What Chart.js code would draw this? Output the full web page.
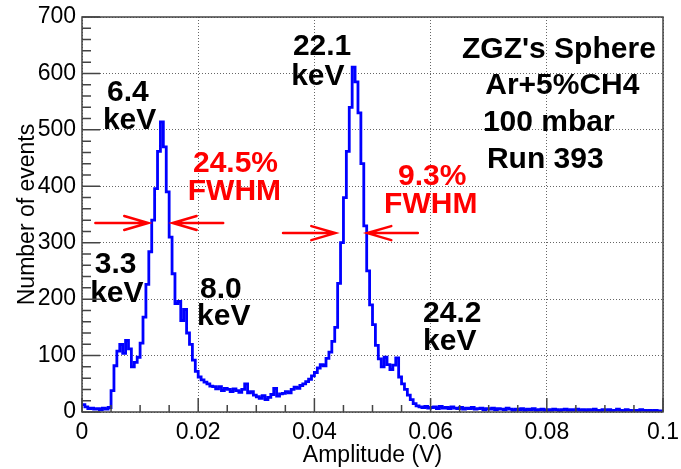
<!DOCTYPE html>
<html>
<head>
<meta charset="utf-8">
<script src="https://cdn.jsdelivr.net/npm/chart.js@4/dist/chart.umd.min.js"></script>
<style>
  html, body { margin: 0; padding: 0; background: #fff; }
  canvas { display: block; }
</style>
</head>
<body>
<canvas id="spectrum" width="681" height="469"></canvas>
<script>
// Histogram: 200 bins of 0.0005 V from 0 to 0.1 V
const binWidth = 0.0005
const counts = [
  15, 13, 9, 6, 7, 5, 6, 4, 7, 5,
  8, 38, 82, 108, 120, 104, 127, 112, 80, 88,
  97, 122, 168, 226, 284, 340, 396, 462, 514, 470,
  390, 310, 245, 192, 196, 162, 182, 140, 120, 92,
  72, 62, 57, 53, 50, 46, 45, 41, 45, 38,
  42, 40, 36, 41, 38, 35, 40, 50, 34, 36,
  30, 27, 24, 29, 22, 26, 31, 42, 28, 32,
  33, 36, 34, 40, 44, 42, 47, 50, 54, 58,
  64, 70, 78, 84, 82, 95, 106, 125, 150, 228,
  300, 380, 462, 540, 611, 585, 530, 440, 330, 250,
  190, 155, 118, 94, 80, 97, 84, 75, 83, 96,
  62, 50, 40, 30, 22, 15, 11, 9, 8, 10,
  7, 8, 9, 6, 10, 7, 8, 6, 9, 7,
  6, 8, 5, 7, 6, 8, 5, 6, 7, 4,
  6, 5, 7, 4, 6, 5, 4, 7, 5, 3,
  5, 4, 6, 3, 5, 4, 6, 3, 4, 5,
  3, 4, 3, 5, 4, 2, 4, 5, 3, 4,
  3, 5, 3, 4, 2, 4, 3, 5, 3, 2,
  4, 3, 4, 2, 3, 5, 3, 2, 4, 3,
  2, 3, 2, 4, 3, 2, 3, 2, 3, 2
]

// Axis ranges and ticks
const xRange = [0, 0.1]
const yRange = [0, 700]
const xMajorStep = 0.02
const xMinorStep = 0.005
const yMajorStep = 100
const yMinorStep = 20

// Text annotations (left x in V, baseline y in counts)
const blackLabels = [
  { text: '6.4', x: 0.0043, y: 551 },
  { text: 'keV', x: 0.0036, y: 501 },
  { text: '22.1', x: 0.0363, y: 633 },
  { text: 'keV', x: 0.0360, y: 579 },
  { text: '3.3', x: 0.0022, y: 246 },
  { text: 'keV', x: 0.0014, y: 195 },
  { text: '8.0', x: 0.0203, y: 202 },
  { text: 'keV', x: 0.0198, y: 154 },
  { text: '24.2', x: 0.0587, y: 159 },
  { text: 'keV', x: 0.0587, y: 110 },
  { text: "ZGZ's Sphere", x: 0.0654, y: 627 },
  { text: 'Ar+5%CH4', x: 0.0694, y: 564 },
  { text: '100 mbar', x: 0.0690, y: 498 },
  { text: 'Run 393', x: 0.0697, y: 432 }
]
const redLabels = [
  { text: '24.5%', x: 0.0191, y: 425 },
  { text: 'FWHM', x: 0.0182, y: 376 },
  { text: '9.3%', x: 0.0544, y: 402 },
  { text: 'FWHM', x: 0.0520, y: 353 }
]
// FWHM arrows: tail -> head (V, counts)
const fwhmArrows = [
  { x1: 0.0023, x2: 0.0114, y: 335 },
  { x1: 0.0243, x2: 0.0156, y: 335 },
  { x1: 0.0346, x2: 0.0436, y: 317 },
  { x1: 0.0578, x2: 0.0491, y: 317 }
]

const FONT = '"Liberation Sans", Arial, Helvetica, sans-serif'

// bin left edges + closing point for the step line
const histPoints = counts.map((c, i) => ({ x: i * binWidth, y: c }))
histPoints.push({ x: counts.length * binWidth, y: counts[counts.length - 1] })

const annotationPlugin = {
  id: 'rootStyle',
  afterDatasetsDraw(chart) {
    const ctx = chart.ctx
    const xs = chart.scales.x
    const ys = chart.scales.y

    ctx.save()
    ctx.textAlign = 'left'
    ctx.textBaseline = 'alphabetic'
    ctx.font = 'bold 30px ' + FONT
    ctx.fillStyle = '#000'
    blackLabels.forEach(l => {
      ctx.fillText(l.text, xs.getPixelForValue(l.x), ys.getPixelForValue(l.y))
    })
    ctx.fillStyle = '#ff0000'
    redLabels.forEach(l => {
      ctx.fillText(l.text, xs.getPixelForValue(l.x), ys.getPixelForValue(l.y))
    })

    // arrows
    ctx.strokeStyle = '#ff0000'
    ctx.lineWidth = 2.5
    ctx.lineCap = 'round'
    fwhmArrows.forEach(a => {
      const px1 = xs.getPixelForValue(a.x1)
      const px2 = xs.getPixelForValue(a.x2)
      const py = ys.getPixelForValue(a.y)
      const dir = px2 > px1 ? 1 : -1
      ctx.beginPath()
      ctx.moveTo(px1, py)
      ctx.lineTo(px2, py)
      ctx.moveTo(px2 - dir * 24, py - 7)
      ctx.lineTo(px2, py)
      ctx.lineTo(px2 - dir * 24, py + 7)
      ctx.stroke()
    })
    ctx.restore()
  },
  afterDraw(chart) {
    const ctx = chart.ctx
    const area = chart.chartArea
    const xs = chart.scales.x
    const ys = chart.scales.y

    ctx.save()
    ctx.strokeStyle = '#444'
    ctx.lineWidth = 1.5

    // inward ticks on bottom and left axes
    ctx.beginPath()
    const nx = Math.round((xRange[1] - xRange[0]) / xMinorStep)
    for (let i = 0; i <= nx; i++) {
      const v = xRange[0] + i * xMinorStep
      const px = xs.getPixelForValue(v)
      const len = i % Math.round(xMajorStep / xMinorStep) === 0 ? 14 : 7
      ctx.moveTo(px, area.bottom)
      ctx.lineTo(px, area.bottom - len)
    }
    const ny = Math.round((yRange[1] - yRange[0]) / yMinorStep)
    for (let i = 0; i <= ny; i++) {
      const v = yRange[0] + i * yMinorStep
      const py = ys.getPixelForValue(v)
      const len = i % Math.round(yMajorStep / yMinorStep) === 0 ? 18 : 9
      ctx.moveTo(area.left, py)
      ctx.lineTo(area.left + len, py)
    }
    ctx.stroke()

    // frame
    ctx.strokeRect(area.left, area.top, area.right - area.left, area.bottom - area.top)
    ctx.restore()
  }
}

new Chart(document.getElementById('spectrum'), {
  type: 'line',
  data: {
    datasets: [{
      label: 'Spectrum',
      data: histPoints,
      stepped: 'after',
      borderColor: '#0000ff',
      borderWidth: 2.8,
      pointRadius: 0,
      fill: false
    }]
  },
  options: {
    responsive: false,
    devicePixelRatio: 1,
    animation: false,
    parsing: false,
    layout: {
      padding: { left: 0, top: 17, right: 18, bottom: 0 }
    },
    plugins: {
      legend: { display: false },
      tooltip: { enabled: false }
    },
    scales: {
      x: {
        type: 'linear',
        min: xRange[0],
        max: xRange[1],
        afterFit: scale => {
          scale.height = 57
          scale.paddingLeft = 0
          scale.paddingRight = 0
        },
        grid: {
          color: '#666',
          lineWidth: 1,
          drawTicks: false
        },
        border: { display: false, dash: [1, 2] },
        ticks: {
          stepSize: xMajorStep,
          padding: 7,
          color: '#000',
          font: { family: FONT, size: 23 },
          maxRotation: 0,
          callback: value => String(Number(value.toFixed(3)))
        },
        title: {
          display: true,
          text: 'Amplitude (V)',
          color: '#000',
          font: { family: FONT, size: 23 },
          padding: 0
        }
      },
      y: {
        type: 'linear',
        min: yRange[0],
        max: yRange[1],
        afterFit: scale => {
          scale.width = 82
          scale.paddingTop = 0
          scale.paddingBottom = 0
        },
        grid: {
          color: '#666',
          lineWidth: 1,
          drawTicks: false
        },
        border: { display: false, dash: [1, 2] },
        ticks: {
          stepSize: yMajorStep,
          padding: 6,
          color: '#000',
          font: { family: FONT, size: 23 }
        },
        title: {
          display: true,
          text: 'Number of events',
          color: '#000',
          font: { family: FONT, size: 23 },
          padding: { top: 14, bottom: 0 }
        }
      }
    }
  },
  plugins: [annotationPlugin]
})
</script>
</body>
</html>
